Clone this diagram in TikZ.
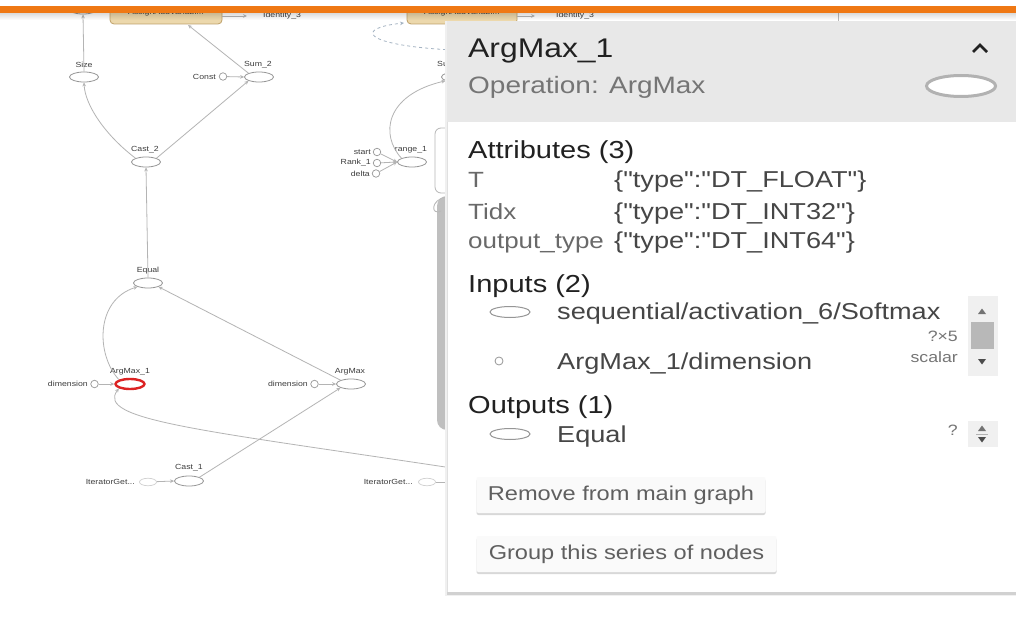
\documentclass[tikz,border=0pt]{standalone}
\usepackage{fontspec}
\setmainfont{Liberation Sans}
\newfontfamily\pf[FakeStretch=1.18]{Liberation Sans}
\usetikzlibrary{shapes.geometric,arrows.meta,shadows}

\definecolor{orng}{RGB}{239,120,20}
\definecolor{edgec}{RGB}{180,180,180}
\definecolor{opc}{RGB}{150,150,150}
\definecolor{lblc}{RGB}{60,60,60}
\definecolor{tanf}{RGB}{236,216,172}
\definecolor{tand}{RGB}{190,160,105}
\definecolor{selred}{RGB}{220,35,35}
\definecolor{hdr}{RGB}{232,232,232}
\definecolor{ink}{RGB}{33,33,33}
\definecolor{subc}{RGB}{117,117,117}
\definecolor{valc}{RGB}{70,70,70}
\definecolor{nmc}{RGB}{105,105,105}
\definecolor{dashc}{RGB}{165,180,195}
\definecolor{btnt}{RGB}{95,95,95}

\begin{document}
\begin{tikzpicture}[x=1pt,y=-1pt,
  op/.style={ellipse,draw=opc,fill=white,line width=0.8pt,minimum width=29pt,minimum height=10pt,inner sep=0pt},
  ghost/.style={ellipse,draw=opc!45,fill=white,line width=0.7pt,minimum width=17pt,minimum height=7.5pt,inner sep=0pt},
  cst/.style={circle,draw=opc,fill=white,line width=0.7pt,minimum size=7.5pt,inner sep=0pt},
  lbl/.style={font=\pf\fontsize{7.4}{8}\selectfont,text=lblc,inner sep=0pt},
  grp/.style={draw=tand,fill=tanf,rounded corners=4pt,line width=0.8pt,minimum height=22pt,inner sep=0pt,font=\pf\fontsize{7.4}{8}\selectfont,text=lblc},
  link/.style={draw=edgec,line width=0.8pt,-{Stealth[length=4pt,width=3.6pt]}},
  ptitle/.style={anchor=base west,inner sep=0pt,text=ink,font=\pf\fontsize{27}{30}\selectfont},
  psub/.style={anchor=base west,inner sep=0pt,text=subc,font=\pf\fontsize{23.7}{26}\selectfont},
  phead/.style={anchor=base west,inner sep=0pt,text=ink,font=\pf\fontsize{24.6}{27}\selectfont},
  pname/.style={anchor=base west,inner sep=0pt,text=nmc,font=\pf\fontsize{22}{25}\selectfont},
  pval/.style={anchor=base west,inner sep=0pt,text=valc,font=\pf\fontsize{23}{25}\selectfont},
  psmall/.style={anchor=base east,inner sep=0pt,text=subc,font=\pf\fontsize{15}{16}\selectfont},
  pbtn/.style={fill=white!98!black,rounded corners=2pt,inner sep=0pt,minimum height=36pt,text=btnt,
    font=\pf\fontsize{20}{22}\selectfont,drop shadow={opacity=0.3,shadow xshift=0pt,shadow yshift=-2pt}},
  ioicon/.style={ellipse,draw=opc,fill=white,line width=1pt,minimum width=40pt,minimum height=11pt,inner sep=0pt},
  iodot/.style={circle,draw=opc,fill=white,line width=0.8pt,minimum size=8pt,inner sep=0pt}
]
\useasboundingbox (0,0) rectangle (1016,628);
\fill[white] (0,0) rectangle (1016,628);

% ---------------- graph canvas ----------------
\node[op] (top) at (83,9) {};
\node[grp,minimum width=112pt] (asgA) at (166,13) {AssignAddVariabl...};
\coordinate (asgAin) at (188,25);
\coordinate (idAin) at (247,16);
\node[lbl,anchor=west] (idA) at (263,16) {Identity\_3};
\draw[link] (asgA.east |- idAin) -- (idAin);

\node[grp,minimum width=110pt] (asgB) at (462,13) {AssignAddVariabl...};
\coordinate (asgBin) at (404,23);
\coordinate (idBin) at (535,16);
\node[lbl,anchor=west] (idB) at (556,16) {Identity\_3};
\draw[link] (asgB.east |- idBin) -- (idBin);
\draw[gray!55,line width=0.8pt] (838,12) -- (838,21);

\node[op] (size) at (84,77) {};
\node[lbl] (sizeL) at (84,65) {Size};
\node[op] (sum2) at (259,77) {};
\node[lbl] (sum2L) at (258,65) {Sum\_2};
\node[cst] (const) at (223,76.5) {};
\node[lbl,anchor=east] (constL) at (216,76.5) {Const};
\node[op] (cast2) at (146,162) {};
\node[lbl] (cast2L) at (145,150) {Cast\_2};
\node[op] (equal) at (148,283) {};
\node[lbl] (equalL) at (148,270.5) {Equal};
\node[op,draw=selred,line width=2.4pt] (am1) at (130,384) {};
\node[lbl] (am1L) at (130,372) {ArgMax\_1};
\node[cst] (dim1) at (94.5,384) {};
\node[lbl,anchor=east] (dim1L) at (88,384) {dimension};
\node[op] (am) at (351,384) {};
\node[lbl] (amL) at (350,372) {ArgMax};
\node[cst] (dim2) at (314.5,384) {};
\node[lbl,anchor=east] (dim2L) at (308,384) {dimension};
\node[op] (cast1) at (189,481) {};
\node[lbl] (cast1L) at (189,468) {Cast\_1};
\node[ghost] (it1) at (148,482) {};
\node[lbl,anchor=east] (it1L) at (135,482) {IteratorGet...};
\node[ghost] (it2) at (427,482) {};
\node[lbl,anchor=east] (it2L) at (413,482) {IteratorGet...};
\coordinate (it2out) at (452,482);

\node[op] (rng) at (412,162) {};
\node[lbl] (rngL) at (411,150) {range\_1};
\node[cst] (cStart) at (377,152) {};
\node[lbl,anchor=east] (startL) at (371,152) {start};
\node[cst] (cRank) at (377,163) {};
\node[lbl,anchor=east] (rankL) at (371,163) {Rank\_1};
\node[cst] (cDelta) at (376,173.5) {};
\node[lbl,anchor=east] (deltaL) at (370,173.5) {delta};
\node[op] (sum1) at (456,77) {};
\node[lbl,anchor=west] (sum1L) at (437,65) {Sum\_1};

% edges
\draw[link] (size.north) -- (top.south);
\draw[link] (const) -- (sum2.west);
\draw[link] (sum2.north west) -- (asgAin);
\draw[link] (cast2.north west) .. controls (105,135) and (85,105) .. (size.south);
\draw[link] (cast2.north east) -- (sum2.south west);
\draw[link] (equal.north) -- (cast2.south);
\draw[link] (am1.north west) .. controls (96,355) and (95,300) .. (equal.south west);
\draw[link] (am.north west) -- (equal.south east);
\draw[link] (dim1) -- (am1.west);
\draw[link] (dim2) -- (am.west);
\draw[link] (cast1.north east) -- (am.south west);
\draw[link] (it1) -- (cast1.west);
\draw[edgec,line width=0.8pt] (it2) -- (it2out);
\coordinate (lsrc) at (452,468);
\draw[link] (lsrc) .. controls (200,430) and (95,420) .. (am1.south west);
\draw[link] (cStart) -- (rng.west);
\draw[link] (cRank) -- (rng.west);
\draw[link] (cDelta) -- (rng.west);
\draw[link] (rng.north west) .. controls (380,135) and (385,95) .. (sum1.south west);
\coordinate (dsrc) at (452,50);
\draw[link,draw=dashc,dashed] (dsrc) .. controls (360,45) and (355,28) .. (asgBin);

% group outline and expanded series partly under the panel
\draw[opc!70,fill=white,rounded corners=6pt,line width=0.8pt] (435,128) rectangle (480,193);
\fill[gray!50,rounded corners=10pt] (437,196) rectangle (480,430);
\draw[gray!55,line width=0.9pt] (446,197) .. controls (430,200) and (431,216) .. (441,211);

% ---------------- info panel ----------------
\fill[black!6] (445,21) rectangle (1016,596);
\fill[black!18] (447,592) rectangle (1016,595);
\fill[hdr] (447,21) rectangle (1016,122);
\fill[white] (447,122) rectangle (1016,592);
\draw[black!12,line width=0.8pt] (447.4,122) -- (447.4,592);

\node[ptitle] (title) at (468,58) {ArgMax\_1};
\node[psub] (opname) at (468,93.5) {Operation: ArgMax};
\draw[ink,line width=2.6pt] (973,52) -- (980,45) -- (987,52);
\node[ellipse,draw=gray!60,fill=white,line width=3pt,minimum width=69pt,minimum height=21pt,inner sep=0pt] (icon) at (961,86) {};

\node[phead] (attrs) at (468,159) {Attributes (3)};
\node[pname] (nT) at (468,188) {T};
\node[pval] (vT) at (614,188) {\{"type":"DT\_FLOAT"\}};
\node[pname] (nTidx) at (468,219) {Tidx};
\node[pval] (vTidx) at (614,219) {\{"type":"DT\_INT32"\}};
\node[pname] (nOut) at (468,248) {output\_type};
\node[pval] (vOut) at (614,248) {\{"type":"DT\_INT64"\}};

\node[phead] (inputs) at (468,292) {Inputs (2)};
\node[ioicon] (in1i) at (510,312) {};
\node[pval] (in1) at (557,319.5) {sequential/activation\_6/Softmax};
\node[psmall] (in1s) at (958,341) {?×5};
\node[iodot] (in2i) at (499,361) {};
\node[pval] (in2) at (557,369.5) {ArgMax\_1/dimension};
\node[psmall] (in2s) at (958,362.5) {scalar};

% scroll bar of the input list
\fill[black!6] (968,296) rectangle (998,376);
\fill[black!55] (978,314) -- (986,314) -- (982,308.5) -- cycle;
\fill[black!28] (971,322) rectangle (994,349);
\fill[black!70] (978,359) -- (986,359) -- (982,364.5) -- cycle;

\node[phead] (outputs) at (468,413) {Outputs (1)};
\node[ioicon] (out1i) at (510,434) {};
\node[pval] (out1) at (557,442) {Equal};
\node[psmall] (out1s) at (958,435) {?};
\fill[black!6] (968,421) rectangle (998,447);
\fill[black!55] (978,431) -- (986,431) -- (982,425.5) -- cycle;
\draw[black!30,line width=0.6pt] (976,434) -- (988,434);
\fill[black!70] (978,437) -- (986,437) -- (982,442.5) -- cycle;

\node[pbtn,minimum width=289pt] (rm) at (621,495) {Remove from main graph};
\node[pbtn,minimum width=300pt] (grpbtn) at (626.5,554) {Group this series of nodes};

% ---------------- top bar ----------------
\fill[white] (0,0) rectangle (1016,6.5);
\fill[orng] (0,6.5) rectangle (1016,13);
\foreach \i in {0,...,6}{
  \fill[black,opacity={0.14*(1-\i/7)}] (0,13+\i) rectangle (1016,14+\i);
}
\end{tikzpicture}
\end{document}
